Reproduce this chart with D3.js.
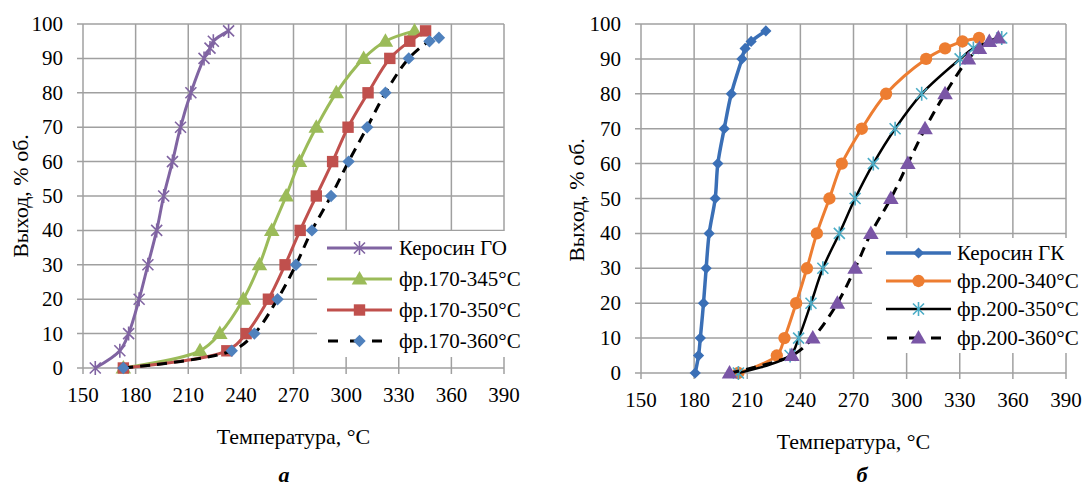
<!DOCTYPE html>
<html>
<head>
<meta charset="utf-8">
<script src="https://cdn.jsdelivr.net/npm/d3@7"></script>
<style>
  body { margin: 0; background: #fff; }
</style>
</head>
<body>
<script>
// chart a: kerosene ГО and 170-x fractions
var keroGO_T   = [157, 171, 176, 182, 187, 192, 196, 201, 205.6, 211.5, 219, 222.4, 224.3, 233];
var keroGO_V   = [0, 5, 10, 20, 30, 40, 50, 60, 70, 80, 90, 93, 95, 98];
var fr170345_T = [173, 216.7, 228, 241.4, 250.6, 257.6, 265.8, 273.4, 283, 294.4, 310, 322.4, 339];
var fr170345_V = [0, 5, 10, 20, 30, 40, 50, 60, 70, 80, 90, 95, 98];
var fr170350_T = [173, 232, 243, 255.7, 265.2, 273.8, 283, 292.3, 301.1, 312.5, 324.9, 336.3, 345.3];
var fr170350_V = [0, 5, 10, 20, 30, 40, 50, 60, 70, 80, 90, 95, 98];
var fr170360_T = [173, 234.8, 247.7, 260.9, 271.4, 280.5, 291.4, 301.4, 312, 322.4, 335.7, 347.5, 352.9];
var fr170360_V = [0, 5, 10, 20, 30, 40, 50, 60, 70, 80, 90, 95, 96];

// chart б: kerosene ГК and 200-x fractions
var keroGK_T   = [180.6, 182.5, 183.5, 185.3, 186.8, 188.5, 191.9, 193.4, 197, 201, 207, 208.8, 212.2, 220.5];
var keroGK_V   = [0, 5, 10, 20, 30, 40, 50, 60, 70, 80, 90, 93, 95, 98];
var fr200340_T = [205, 226.7, 231, 237.6, 243.7, 249.3, 256.4, 263.4, 274.7, 288.4, 311, 321.7, 331.5, 340.9];
var fr200340_V = [0, 5, 10, 20, 30, 40, 50, 60, 70, 80, 90, 93, 95, 96];
var fr200350_T = [205, 234.2, 239, 246, 252.7, 262, 270.9, 281.2, 293.5, 308.5, 330.2, 337.7, 353.7];
var fr200350_V = [0, 5, 10, 20, 30, 40, 50, 60, 70, 80, 90, 93, 96];
var fr200360_T = [200, 235.2, 247, 260.9, 270.9, 279.8, 291.1, 300.7, 310.4, 321.7, 334.9, 341.1, 346.7, 351.8];
var fr200360_V = [0, 5, 10, 20, 30, 40, 50, 60, 70, 80, 90, 93, 95, 96];

var xTicks = [150, 180, 210, 240, 270, 300, 330, 360, 390];
var yTicks = [0, 10, 20, 30, 40, 50, 60, 70, 80, 90, 100];

var FONT = "Liberation Serif";

var svg = d3.select("body").append("svg")
	.attr("width", 1090)
	.attr("height", 489);

function zip(t, v) {
	return t.map(function(d, i){ return {t: d, v: v[i]}; });
}

function txt(g, x, y, s, size) {
	return g.append("text").attr("x", x).attr("y", y)
		.style("font-family", FONT).style("font-size", size + "px").attr("fill", "#000")
		.text(s);
}

// marker shapes
function drawMarker(g, type, x, y, col, sz) {
	sz = sz || 1;
	if (type == "star") {
		var s = 5.5;
		g.append("path")
			.attr("d", "M" + (x-s) + "," + (y-s) + "L" + (x+s) + "," + (y+s) +
				"M" + (x-s) + "," + (y+s) + "L" + (x+s) + "," + (y-s) +
				"M" + x + "," + (y-s-1.5) + "L" + x + "," + (y+s+1.5))
			.attr("stroke", col).attr("stroke-width", 1.6).attr("fill", "none");
	} else if (type == "dia") {
		g.append("path")
			.attr("d", d3.symbol().type(d3.symbolSquare).size(70 * sz)())
			.attr("transform", "translate(" + x + "," + y + ") rotate(45)")
			.attr("fill", col);
	} else {
		var sym = {tri: d3.symbolTriangle, sq: d3.symbolSquare, circ: d3.symbolCircle}[type];
		var size = {tri: 105, sq: 130, circ: 120}[type];
		g.append("path")
			.attr("d", d3.symbol().type(sym).size(size)())
			.attr("transform", "translate(" + x + "," + (type == "tri" ? y + 1 : y) + ")")
			.attr("fill", col);
	}
}

function drawPanel(p) {
	var x = d3.scaleLinear().domain([150, 390]).range([p.x0, p.x1]);
	var y = d3.scaleLinear().domain([0, 100]).range([p.y0, p.y1]);
	var g = svg.append("g");

	// grid
	g.selectAll(".vg").data(xTicks).enter().append("line")
		.attr("x1", function(d){ return x(d); }).attr("x2", function(d){ return x(d); })
		.attr("y1", p.y1).attr("y2", p.y0 + 6)
		.attr("stroke", "#a0a0a0").attr("stroke-width", 1.5);
	g.selectAll(".hg").data(yTicks).enter().append("line")
		.attr("x1", p.x0 - 6).attr("x2", p.x1)
		.attr("y1", function(d){ return y(d); }).attr("y2", function(d){ return y(d); })
		.attr("stroke", "#a0a0a0").attr("stroke-width", 1.5);

	// tick labels
	xTicks.forEach(function(d){
		txt(g, x(d), p.y0 + 34, d, 21).attr("text-anchor", "middle");
	});
	yTicks.forEach(function(d){
		txt(g, p.x0 - 20, y(d) + 7, d, 21).attr("text-anchor", "end");
	});

	// axis titles
	txt(g, (p.x0 + p.x1) / 2, p.y0 + 76, "Температура, °С", 22).attr("text-anchor", "middle");
	txt(g, 0, 0, "Выход, % об.", 22).attr("text-anchor", "middle")
		.attr("transform", "translate(" + p.ytx + "," + p.yty + ") rotate(-90)");
	txt(g, p.lx, 482, p.letter, 22).attr("text-anchor", "middle")
		.style("font-weight", "bold").style("font-style", "italic");

	// legend box (covers grid)
	g.append("rect").attr("x", p.leg.x).attr("y", p.leg.y).attr("width", p.leg.w).attr("height", p.leg.h)
		.attr("fill", "#fff");

	var line = d3.line()
		.x(function(d){ return x(d.t); })
		.y(function(d){ return y(d.v); })
		.curve(d3.curveCatmullRom.alpha(0.5));

	p.series.forEach(function(s, k){
		var pts = zip(s.t, s.v);
		var path = g.append("path").datum(pts)
			.attr("d", line)
			.attr("fill", "none")
			.attr("stroke", s.line).attr("stroke-width", s.w);
		if (s.dash) path.attr("stroke-dasharray", "10,7");
		pts.forEach(function(d){ drawMarker(g, s.mk, x(d.t), y(d.v), s.col, s.sz); });

		// legend entry
		var ly = p.leg.rows[k];
		var ll = g.append("line").attr("x1", p.leg.lx0).attr("x2", p.leg.lx1)
			.attr("y1", ly).attr("y2", ly)
			.attr("stroke", s.line).attr("stroke-width", s.w);
		if (s.dash) ll.attr("stroke-dasharray", "10,12").attr("stroke-dashoffset", -1);
		drawMarker(g, s.mk, (p.leg.lx0 + p.leg.lx1) / 2, ly, s.col, s.sz);
		txt(g, p.leg.tx, ly + 7, s.name, 21);
	});
}

drawPanel({
	x0: 83, x1: 504, y0: 368, y1: 24, ytx: 28, yty: 196, lx: 284, letter: "а",
	leg: {x: 317, y: 231, w: 220, h: 126, lx0: 327, lx1: 392, tx: 399, rows: [248, 279, 310, 341]},
	series: [
		{name: "Керосин ГО", t: keroGO_T, v: keroGO_V, col: "#8064a2", line: "#8064a2", w: 3, mk: "star"},
		{name: "фр.170-345°С", t: fr170345_T, v: fr170345_V, col: "#9bbb59", line: "#9bbb59", w: 3, mk: "tri"},
		{name: "фр.170-350°С", t: fr170350_T, v: fr170350_V, col: "#c0504d", line: "#c0504d", w: 3, mk: "sq"},
		{name: "фр.170-360°С", t: fr170360_T, v: fr170360_V, col: "#4f81bd", line: "#000", w: 3, mk: "dia", sz: 1.1, dash: true}
	]
});

drawPanel({
	x0: 641, x1: 1066, y0: 373, y1: 24, ytx: 584, yty: 200, lx: 862, letter: "б",
	leg: {x: 872, y: 238, w: 218, h: 115, lx0: 886, lx1: 951, tx: 957, rows: [253, 281, 309, 338]},
	series: [
		{name: "Керосин ГК", t: keroGK_T, v: keroGK_V, col: "#3a6fb6", line: "#3a6fb6", w: 3.5, mk: "dia", sz: 0.9},
		{name: "фр.200-340°С", t: fr200340_T, v: fr200340_V, col: "#ed7d31", line: "#ed7d31", w: 3, mk: "circ"},
		{name: "фр.200-350°С", t: fr200350_T, v: fr200350_V, col: "#4bacc6", line: "#000", w: 2.5, mk: "star"},
		{name: "фр.200-360°С", t: fr200360_T, v: fr200360_V, col: "#7a56a6", line: "#000", w: 3, mk: "tri", dash: true}
	]
});
</script>
</body>
</html>
